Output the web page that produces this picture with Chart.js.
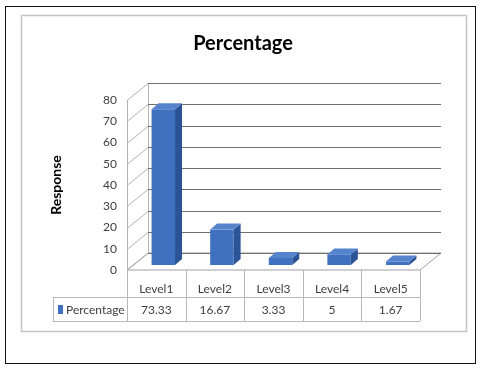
<!DOCTYPE html>
<html>
<head>
<meta charset="utf-8">
<script src="https://cdn.jsdelivr.net/npm/chart.js@4.4.1/dist/chart.umd.min.js"></script>
<style>
  html, body { margin: 0; padding: 0; background: #fff; }
  #wrap { width: 481px; height: 376px; }
</style>
</head>
<body>
<div id="wrap"><canvas id="myChart" width="481" height="376"></canvas></div>
<script>
// data
const levels = ['Level1', 'Level2', 'Level3', 'Level4', 'Level5'];
const percentages = [73.33, 16.67, 3.33, 5, 1.67];
const yMin = 0;
const yMax = 80;
const yStep = 10;
const seriesName = 'Percentage';
const chartTitle = 'Percentage';
const axisTitle = 'Response';

const FONT = "Lato, 'Open Sans', sans-serif";
const wall = { dx: 21, dy: -17 };      // depth of the 3d box
const barShift = { dx: 7, dy: -5 };    // bars sit in the middle of the depth
const barDepth = { dx: 7, dy: -6 };
const barFront = '#3f71c0';
const barSide = '#2a5495';
const barTop = '#5584cc';

const frame3d = {
    id: 'frame3d',
    beforeDraw(chart) {
        const ctx = chart.ctx;
        ctx.save();
        ctx.fillStyle = '#fff';
        ctx.fillRect(0, 0, chart.width, chart.height);
        // outer black frame
        ctx.strokeStyle = '#111';
        ctx.lineWidth = 1;
        ctx.strokeRect(5.5, 6.5, 470, 357);
        // chart area frame
        ctx.strokeStyle = '#c4c4c4';
        ctx.lineWidth = 1.5;
        ctx.strokeRect(21.5, 15.5, 445, 316);
        ctx.restore();
    },
    beforeDatasetsDraw(chart) {
        const ctx = chart.ctx;
        const a = chart.chartArea;
        const y = chart.scales.y;
        ctx.save();
        ctx.lineWidth = 1;
        // floor
        ctx.beginPath();
        ctx.moveTo(a.left, a.bottom);
        ctx.lineTo(a.right, a.bottom);
        ctx.lineTo(a.right + wall.dx, a.bottom + wall.dy);
        ctx.lineTo(a.left + wall.dx, a.bottom + wall.dy);
        ctx.closePath();
        ctx.strokeStyle = '#a0a0a0';
        ctx.stroke();
        // side wall edges
        ctx.strokeStyle = '#b4b4b4';
        ctx.beginPath();
        ctx.moveTo(a.left + 0.5, a.bottom);
        ctx.lineTo(a.left + 0.5, y.getPixelForValue(yMax));
        ctx.moveTo(a.left + wall.dx + 0.5, a.bottom + wall.dy);
        ctx.lineTo(a.left + wall.dx + 0.5, y.getPixelForValue(yMax) + wall.dy);
        ctx.stroke();
        // gridlines on the side and back walls
        y.ticks.forEach(t => {
            const py = Math.round(y.getPixelForValue(t.value)) + 0.5;
            ctx.strokeStyle = '#b4b4b4';
            ctx.beginPath();
            ctx.moveTo(a.left, py);
            ctx.lineTo(a.left + wall.dx, py + wall.dy);
            ctx.stroke();
            ctx.strokeStyle = '#707070';
            ctx.beginPath();
            ctx.moveTo(a.left + wall.dx, py + wall.dy);
            ctx.lineTo(a.right + wall.dx, py + wall.dy);
            ctx.stroke();
        });
        ctx.restore();
        ctx.save();
        ctx.translate(barShift.dx, barShift.dy);
    },
    afterDatasetsDraw(chart) {
        const ctx = chart.ctx;
        const meta = chart.getDatasetMeta(0);
        meta.data.forEach(bar => {
            const l = bar.x - bar.width / 2;
            const r = bar.x + bar.width / 2;
            // side
            ctx.beginPath();
            ctx.moveTo(r, bar.y);
            ctx.lineTo(r + barDepth.dx, bar.y + barDepth.dy);
            ctx.lineTo(r + barDepth.dx, bar.base + barDepth.dy);
            ctx.lineTo(r, bar.base);
            ctx.closePath();
            ctx.fillStyle = barSide;
            ctx.fill();
            // top
            ctx.beginPath();
            ctx.moveTo(l, bar.y);
            ctx.lineTo(r, bar.y);
            ctx.lineTo(r + barDepth.dx, bar.y + barDepth.dy);
            ctx.lineTo(l + barDepth.dx, bar.y + barDepth.dy);
            ctx.closePath();
            ctx.fillStyle = barTop;
            ctx.fill();
        });
        ctx.restore();
    },
    afterDraw(chart) {
        const ctx = chart.ctx;
        const a = chart.chartArea;
        const x = chart.scales.x;
        const row1 = a.bottom + 27;
        const row2 = a.bottom + 51;
        const legLeft = 53;
        ctx.save();
        // title
        ctx.fillStyle = '#000';
        ctx.font = 'bold 20px ' + FONT;
        ctx.textAlign = 'center';
        ctx.textBaseline = 'middle';
        ctx.fillText(chartTitle, 243, 44);

        // data table
        ctx.strokeStyle = '#b8b8b8';
        ctx.lineWidth = 1;
        ctx.beginPath();
        const bounds = [a.left];
        levels.forEach((lv, i) => {
            const cx = x.getPixelForValue(i);
            bounds.push(i < levels.length - 1 ? (cx + x.getPixelForValue(i + 1)) / 2 : a.right);
        });
        bounds.forEach(bx => {
            ctx.moveTo(Math.round(bx) + 0.5, a.bottom);
            ctx.lineTo(Math.round(bx) + 0.5, row2);
        });
        ctx.moveTo(legLeft, row1 + 0.5);
        ctx.lineTo(a.right, row1 + 0.5);
        ctx.moveTo(legLeft, row2 + 0.5);
        ctx.lineTo(a.right, row2 + 0.5);
        ctx.moveTo(legLeft + 0.5, row1);
        ctx.lineTo(legLeft + 0.5, row2);
        ctx.stroke();

        ctx.font = '12px ' + FONT;
        ctx.fillStyle = '#404040';
        levels.forEach((lv, i) => {
            const cx = x.getPixelForValue(i);
            ctx.fillText(lv, cx, a.bottom + 19);
            ctx.fillText(String(percentages[i]), cx, row1 + 13);
        });
        // legend key
        ctx.fillStyle = barFront;
        ctx.fillRect(legLeft + 5, row1 + 8, 5, 9);
        ctx.fillStyle = '#404040';
        ctx.textAlign = 'left';
        ctx.fillText(seriesName, legLeft + 13, row1 + 13);
        ctx.restore();
    }
};

const ctx = document.getElementById('myChart').getContext('2d');
const myChart = new Chart(ctx, {
    type: 'bar',
    data: {
        labels: levels,
        datasets: [{
            label: seriesName,
            data: percentages,
            backgroundColor: barFront,
            borderWidth: 0,
            barPercentage: 0.4,
            categoryPercentage: 1
        }]
    },
    options: {
        responsive: false,
        animation: false,
        layout: { padding: { top: 100, left: 44, right: 61, bottom: 106 } },
        plugins: {
            legend: { display: false },
            title: { display: false },
            tooltip: { enabled: false }
        },
        scales: {
            x: { display: false },
            y: {
                min: yMin,
                max: yMax,
                grid: { display: false, drawTicks: false },
                border: { display: false },
                ticks: {
                    stepSize: yStep,
                    padding: 10,
                    color: '#404040',
                    font: { size: 12, family: FONT }
                },
                title: {
                    display: true,
                    text: axisTitle,
                    color: '#000',
                    font: { size: 14, weight: 'bold', family: FONT }
                },
                afterFit(scale) { scale.width = 83; }
            }
        }
    },
    plugins: [frame3d]
});
</script>
</body>
</html>
